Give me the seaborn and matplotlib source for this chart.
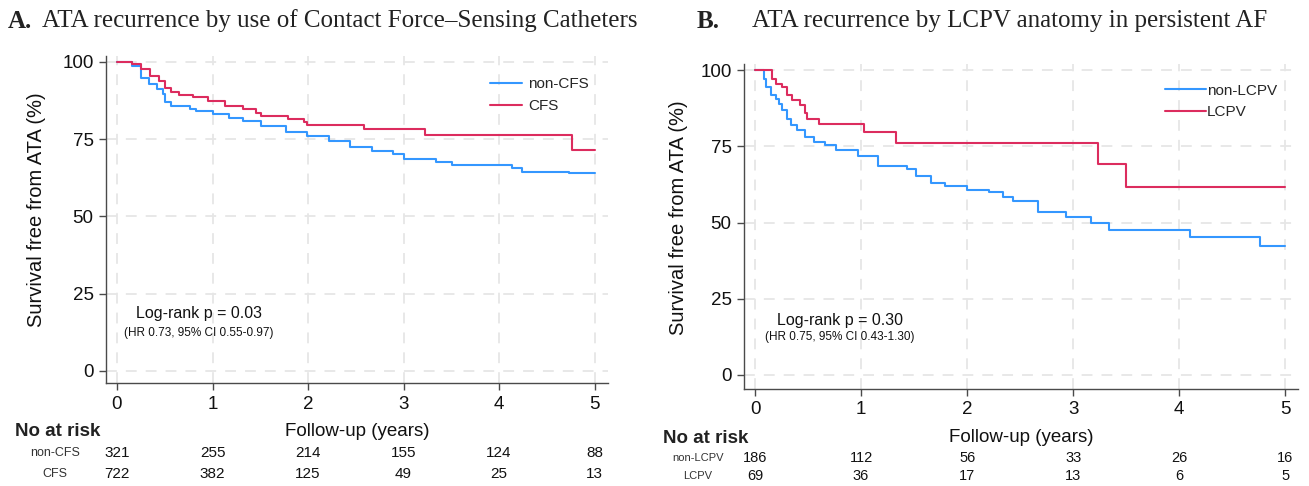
import matplotlib
matplotlib.use("Agg")
import matplotlib.pyplot as plt
import matplotlib.transforms as mtransforms
import pandas as pd
import seaborn as sns

# ---- Kaplan-Meier step data (years, % free from ATA) ----
cfs_groups = ["non-CFS", "CFS"]
noncfs_time = [0, 0.16, 0.25, 0.33, 0.42, 0.48, 0.50, 0.57, 0.76, 0.83, 1.00, 1.17, 1.32,
               1.51, 1.77, 1.99, 2.22, 2.44, 2.67, 2.89, 3.00, 3.34, 3.51, 4.13, 4.24, 4.73, 5.00]
noncfs_surv = [100, 98.7, 94.9, 92.8, 91.2, 89.5, 86.9, 85.8, 84.7, 84.2, 83.1, 82.0, 80.9,
               79.3, 77.2, 76.1, 74.5, 72.3, 71.2, 70.2, 68.5, 67.7, 66.6, 65.6, 64.5, 63.9, 63.9]
cfs_time = [0, 0.16, 0.25, 0.35, 0.44, 0.50, 0.57, 0.65, 0.80, 0.95, 1.13, 1.32, 1.45,
            1.51, 1.79, 1.96, 1.99, 2.59, 3.22, 4.76, 5.00]
cfs_surv = [100, 99.2, 97.6, 95.5, 93.9, 91.7, 90.1, 89.3, 88.5, 87.2, 85.8, 84.7, 83.6,
            82.5, 81.5, 80.4, 79.6, 78.2, 76.4, 71.6, 71.6]

lcpv_groups = ["non-LCPV", "LCPV"]
nonlcpv_time = [0, 0.08, 0.10, 0.15, 0.20, 0.23, 0.25, 0.30, 0.34, 0.40, 0.47, 0.56, 0.66,
                0.76, 0.97, 1.16, 1.43, 1.52, 1.66, 1.79, 2.00, 2.21, 2.34, 2.43, 2.67, 2.93,
                3.17, 3.34, 4.10, 4.76, 5.00]
nonlcpv_surv = [100, 97.0, 94.5, 91.7, 90.6, 89.0, 86.8, 84.0, 82.0, 80.2, 78.0, 76.3, 75.4,
                73.9, 71.9, 68.6, 67.5, 65.3, 63.1, 62.0, 60.8, 60.0, 58.5, 57.0, 53.6, 51.8,
                49.7, 47.6, 45.3, 42.3, 42.3]
lcpv_time = [0, 0.16, 0.20, 0.25, 0.30, 0.35, 0.42, 0.47, 0.49, 0.60, 1.03, 1.33, 3.23, 3.50, 5.00]
lcpv_surv = [100, 97.2, 95.6, 94.3, 91.7, 90.1, 88.4, 86.0, 84.0, 82.4, 79.6, 76.1, 69.2, 61.5, 61.5]

# ---- numbers at risk ----
risk_years = [0, 1, 2, 3, 4, 5]
risk_noncfs = [321, 255, 214, 155, 124, 88]
risk_cfs = [722, 382, 125, 49, 25, 13]
risk_nonlcpv = [186, 112, 56, 33, 26, 16]
risk_lcpv = [69, 36, 17, 13, 6, 5]

x_ticks = [0, 1, 2, 3, 4, 5]
y_ticks = [0, 25, 50, 75, 100]

title_a = "ATA recurrence by use of Contact Force\u2013Sensing Catheters"
title_b = "ATA recurrence by LCPV anatomy in persistent AF"
stat_a = ["Log-rank p = 0.03", "(HR 0.73, 95% CI 0.55-0.97)"]
stat_b = ["Log-rank p = 0.30", "(HR 0.75, 95% CI 0.43-1.30)"]

BLUE = "#3497ff"
RED = "#dc2c5e"
SANS = ["Liberation Sans", "DejaVu Sans"]
SERIF = ["Liberation Serif", "DejaVu Serif"]


def long_frame(groups, times, survs):
    rows = []
    for g, t, s in zip(groups, times, survs):
        rows.append(pd.DataFrame({"time": t, "surv": s, "group": g}))
    return pd.concat(rows, ignore_index=True)


df_a = long_frame(cfs_groups, [noncfs_time, cfs_time], [noncfs_surv, cfs_surv])
df_b = long_frame(lcpv_groups, [nonlcpv_time, lcpv_time], [nonlcpv_surv, lcpv_surv])

sns.set_theme(style="ticks")
plt.rcParams["font.family"] = SANS

W, H = 1309, 486
fig = plt.figure(figsize=(W / 100, H / 100), dpi=100)


def px_box(left, right, top, bottom):
    return [left / W, 1 - bottom / H, (right - left) / W, (bottom - top) / H]


ax_a = fig.add_axes(px_box(106, 608, 56, 383))
ax_b = fig.add_axes(px_box(744, 1298, 64, 389))


def km_panel(ax, df, groups, xlim, ylim, leg_anchor, handlelen, textpad):
    sns.lineplot(data=df, x="time", y="surv", hue="group", hue_order=groups,
                 palette=[BLUE, RED], drawstyle="steps-post", estimator=None,
                 sort=False, linewidth=1.5, ax=ax)
    ax.set_xlim(*xlim)
    ax.set_ylim(*ylim)
    ax.set_xticks(x_ticks)
    ax.set_yticks(y_ticks)
    ax.grid(True, color="#e6e6e6", linestyle=(0, (6, 5)), linewidth=1.3)
    ax.set_axisbelow(True)
    for side in ("top", "right"):
        ax.spines[side].set_visible(False)
    for side in ("left", "bottom"):
        ax.spines[side].set_color("#4a4a4a")
        ax.spines[side].set_linewidth(1.0)
    ax.tick_params(direction="out", length=5, width=1, color="#4a4a4a",
                   labelsize=13.5, labelcolor="#111111", pad=4)
    ax.set_xlabel("")
    ax.set_ylabel("Survival free from ATA (%)", fontsize=14.5, color="#111111")
    sns.move_legend(ax, "upper left", bbox_to_anchor=leg_anchor, frameon=False,
                    title=None, fontsize=11, handlelength=handlelen,
                    handletextpad=textpad, borderaxespad=0, borderpad=0,
                    labelspacing=0.5)


km_panel(ax_a, df_a, cfs_groups, (-0.115, 5.14), (-3.9, 101.9), (0.765, 0.935), 2.1, 0.4)
km_panel(ax_b, df_b, lcpv_groups, (-0.104, 5.12), (-4.6, 102.0), (0.76, 0.94), 2.7, 0.05)
ax_a.yaxis.set_label_coords((46 - 106) / 502, 0.5 + (210 - 219.5) / -327)
ax_b.yaxis.set_label_coords((688 - 744) / 554, 0.5 + (218 - 226.5) / -325)

# statistics text
for ax, lines, xc, y1, y2 in ((ax_a, stat_a, 0.185, 0.214, 0.153),
                              (ax_b, stat_b, 0.173, 0.212, 0.160)):
    ax.text(xc, y1, lines[0], transform=ax.transAxes, ha="center", va="center",
            fontsize=11.5, color="#111111")
    ax.text(xc, y2, lines[1], transform=ax.transAxes, ha="center", va="center",
            fontsize=8.5, color="#111111")

# panel titles
for x_letter, x_text, letter, text in ((8, 42, "A.", title_a), (697, 752, "B.", title_b)):
    fig.text(x_letter / W, 1 - 21 / H, letter, family=SERIF, fontweight="bold",
             fontsize=18, ha="left", va="center", color="#222222")
    fig.text(x_text / W, 1 - 21 / H, text, family=SERIF, fontsize=18,
             ha="left", va="center", color="#222222")


# risk tables under each panel
def risk_table(ax, x_head, y_head, x_lab, rows, num_size, lab_size):
    trans = mtransforms.blended_transform_factory(ax.transData, fig.transFigure)
    fig.text(x_head / W, 1 - y_head / H, "No at risk", fontsize=13.5, fontweight="bold",
             ha="left", va="center", color="#222222")
    fig.text(0.5, 1 - (y_head - 1) / H, "Follow-up (years)", fontsize=13.5,
             ha="center", va="center", color="#111111",
             transform=mtransforms.blended_transform_factory(ax.transAxes, fig.transFigure))
    for label, counts, y in rows:
        fig.text(x_lab / W, 1 - y / H, label, fontsize=lab_size, ha="center",
                 va="center", color="#333333")
        for yr, n in zip(risk_years, counts):
            ax.text(yr, 1 - y / H, str(n), transform=trans, fontsize=num_size,
                    ha="center", va="center", color="#111111", clip_on=False)


risk_table(ax_a, 15, 432, 55, [("non-CFS", risk_noncfs, 453), ("CFS", risk_cfs, 474)], 11, 9)
risk_table(ax_b, 663, 438, 698, [("non-LCPV", risk_nonlcpv, 458), ("LCPV", risk_lcpv, 476)], 10.5, 8)

fig.savefig("out.png", dpi=100)
